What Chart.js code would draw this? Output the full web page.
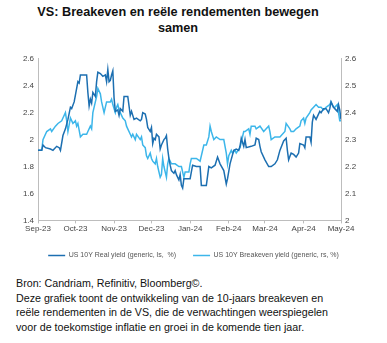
<!DOCTYPE html>
<html>
<head>
<meta charset="utf-8">
<script src="https://cdn.jsdelivr.net/npm/chart.js@4"></script>
<style>
  body { margin: 0; background: #fff; font-family: "Liberation Sans", Arial, sans-serif; }
  #wrap { position: relative; width: 387px; height: 343px; overflow: hidden; }
  #title { position: absolute; left: 0; top: 4px; width: 356px; text-align: center;
           font-weight: bold; font-size: 12.7px; line-height: 16px; color: #111; }
  #box { position: absolute; left: 0; top: 50px; width: 387px; height: 219px; }
  #note { position: absolute; left: 16px; top: 276px; width: 370px; font-size: 10.7px;
          line-height: 14.7px; color: #111; }
</style>
</head>
<body>
<div id="wrap">
  <div id="title">VS: Breakeven en reële rendementen bewegen<br>samen</div>
  <div id="box"><canvas id="yieldChart"></canvas></div>
  <div id="note">Bron: Candriam, Refinitiv, Bloomberg©.<br>Deze grafiek toont de ontwikkeling van de 10-jaars breakeven en<br>reële rendementen in de VS, die de verwachtingen weerspiegelen<br>voor de toekomstige inflatie en groei in de komende tien jaar.</div>
</div>
<script>
// days counted from 1 Sep 2023
const monthDays = [0, 30, 61, 91, 122, 153, 182, 213, 243];
const monthLabels = ['Sep-23', 'Oct-23', 'Nov-23', 'Dec-23', 'Jan-24', 'Feb-24', 'Mar-24', 'Apr-24', 'May-24'];

// US 10Y real yield (left axis, %)
const realDays = [0, 3, 4, 6, 10, 12, 15, 17, 18, 20, 22, 24, 26, 27, 29, 30, 32, 33, 34, 38, 39, 40, 41, 42, 43, 44, 46, 47, 48, 50,
  52, 54, 55, 56, 57, 58, 59, 60, 61, 62, 64, 65, 66, 68, 69, 72, 74, 75, 76, 77, 79, 82, 83, 84, 86, 87, 88, 90, 91, 92,
  93, 94, 95, 97, 98, 99, 101, 102, 103, 104, 105, 106, 107, 108, 109, 110, 111, 113, 114, 115, 116, 117, 119, 122, 123, 124, 127, 130, 131, 135,
  137, 139, 142, 144, 146, 149, 151, 152, 154, 157, 159, 161, 162, 163, 165, 166, 167, 171, 174, 175, 177, 178, 179, 182, 185, 187, 190, 192, 194, 197,
  199, 200, 201, 203, 205, 207, 209, 210, 213, 214, 215, 218, 219, 220, 221, 223, 226, 227, 229, 231, 233, 234, 235, 237, 238, 240, 241, 242, 243];
const realYield = [1.92, 1.92, 1.96, 1.94, 1.93, 1.92, 1.95, 1.94, 1.92, 2.03, 2.08, 2.15, 2.24, 2.23, 2.28, 2.33, 2.43, 2.42, 2.48, 2.48, 2.48, 2.35, 2.25, 2.30, 2.27, 2.35, 2.32, 2.43, 2.50, 2.49,
  2.47, 2.48, 2.43, 2.52, 2.43, 2.44, 2.48, 2.51, 2.31, 2.21, 2.22, 2.18, 2.23, 2.21, 2.32, 2.32, 2.18, 2.21, 2.18, 2.15, 2.16, 2.14, 2.15, 2.20, 2.19, 2.15, 2.09, 2.06, 2.09, 1.97,
  2.01, 2.00, 2.04, 2.02, 1.93, 1.96, 2.00, 2.01, 2.03, 1.93, 1.86, 1.81, 1.77, 1.76, 1.75, 1.77, 1.74, 1.70, 1.74, 1.66, 1.64, 1.71, 1.71, 1.71, 1.76, 1.81, 1.80, 1.80, 1.66, 1.66,
  1.80, 1.79, 1.81, 1.87, 1.82, 1.77, 1.67, 1.71, 1.82, 1.92, 1.93, 1.92, 1.95, 2.01, 1.95, 2.00, 1.94, 1.95, 1.96, 2.01, 2.00, 1.95, 1.91, 1.85, 1.80, 1.80, 1.82, 1.85, 1.92, 1.99,
  2.01, 1.92, 1.85, 1.90, 1.89, 1.87, 1.90, 1.97, 1.96, 1.94, 2.02, 2.02, 1.98, 2.13, 2.18, 2.15, 2.21, 2.20, 2.23, 2.23, 2.20, 2.23, 2.28, 2.24, 2.23, 2.21, 2.26, 2.22, 2.15];

// US 10Y breakeven yield (right axis, %)
const beDays = [0, 3, 4, 7, 10, 11, 14, 16, 19, 20, 22, 23, 24, 26, 28, 30, 31, 32, 34, 36, 39, 40, 42, 43, 44, 46, 47, 48, 50, 51,
  53, 55, 56, 58, 59, 60, 62, 63, 64, 65, 67, 68, 70, 71, 72, 74, 75, 76, 78, 79, 82, 83, 84, 86, 87, 88, 90, 91, 92, 94,
  95, 96, 98, 99, 100, 101, 102, 103, 104, 105, 107, 110, 113, 115, 117, 118, 121, 122, 123, 125, 127, 130, 133, 135, 137, 138, 139, 141, 143, 146,
  149, 151, 152, 153, 155, 156, 158, 159, 162, 163, 165, 166, 169, 170, 171, 174, 175, 178, 181, 183, 185, 186, 187, 190, 194, 198, 199, 202, 203, 205,
  207, 210, 211, 213, 214, 215, 218, 219, 223, 225, 227, 229, 231, 234, 235, 237, 238, 240, 241, 242, 243];
const breakeven = [2.26, 2.26, 2.30, 2.33, 2.34, 2.33, 2.35, 2.36, 2.37, 2.38, 2.40, 2.37, 2.33, 2.38, 2.36, 2.37, 2.35, 2.36, 2.31, 2.32, 2.32, 2.33, 2.35, 2.34, 2.40, 2.44, 2.46, 2.49, 2.47, 2.44,
  2.40, 2.44, 2.44, 2.44, 2.45, 2.43, 2.40, 2.42, 2.43, 2.41, 2.39, 2.38, 2.37, 2.35, 2.34, 2.32, 2.31, 2.32, 2.30, 2.32, 2.30, 2.31, 2.28, 2.27, 2.24, 2.23, 2.25, 2.23, 2.22, 2.21,
  2.23, 2.20, 2.16, 2.17, 2.23, 2.20, 2.18, 2.16, 2.21, 2.23, 2.21, 2.21, 2.20, 2.20, 2.16, 2.18, 2.18, 2.21, 2.23, 2.23, 2.23, 2.22, 2.28, 2.28, 2.31, 2.35, 2.33, 2.30, 2.31, 2.30,
  2.30, 2.25, 2.21, 2.24, 2.26, 2.25, 2.26, 2.25, 2.27, 2.29, 2.33, 2.33, 2.34, 2.32, 2.35, 2.35, 2.34, 2.35, 2.33, 2.34, 2.35, 2.33, 2.30, 2.31, 2.31, 2.33, 2.36, 2.34, 2.33, 2.33,
  2.34, 2.35, 2.37, 2.38, 2.36, 2.38, 2.40, 2.41, 2.43, 2.42, 2.42, 2.41, 2.42, 2.43, 2.44, 2.42, 2.42, 2.43, 2.40, 2.37, 2.37];

const axisColor = '#bdbdbd';
const tickFont = { family: 'Liberation Sans, Arial, sans-serif', size: 8 };

function fmt(v) {
  return String(+v.toFixed(1));
}

new Chart(document.getElementById('yieldChart'), {
  type: 'line',
  data: {
    datasets: [{
      label: 'US 10Y Real yield (generic, ls,  %)',
      data: realDays.map((d, i) => ({ x: d, y: realYield[i] })),
      borderColor: '#1c6fb1',
      backgroundColor: '#1c6fb1',
      borderWidth: 1.5,
      pointRadius: 0,
      yAxisID: 'yL'
    },
    {
      label: 'US 10Y Breakeven yield (generic, rs, %)',
      data: beDays.map((d, i) => ({ x: d, y: breakeven[i] })),
      borderColor: '#3cb6ea',
      backgroundColor: '#3cb6ea',
      borderWidth: 1.5,
      pointRadius: 0,
      yAxisID: 'yR'
    }]
  },
  options: {
    responsive: true,
    maintainAspectRatio: false,
    animation: false,
    layout: { padding: { top: 8, left: 0, right: 0 } },
    plugins: {
      tooltip: { enabled: false },
      legend: {
        position: 'bottom',
        labels: {
          usePointStyle: true,
          pointStyle: 'line',
          pointStyleWidth: 17,
          boxHeight: 6,
          padding: 17,
          color: '#555',
          font: { family: 'Liberation Sans, Arial, sans-serif', size: 7 }
        }
      }
    },
    scales: {
      x: {
        type: 'linear',
        min: 0,
        max: 243,
        afterBuildTicks: (axis) => { axis.ticks = monthDays.map(v => ({ value: v })); },
        ticks: {
          autoSkip: false,
          maxRotation: 0,
          padding: 1,
          color: '#444',
          font: tickFont,
          callback: (v) => monthLabels[monthDays.indexOf(v)]
        },
        grid: { drawOnChartArea: false, drawTicks: true, tickLength: 3, color: axisColor },
        border: { color: axisColor }
      },
      yL: {
        position: 'left',
        min: 1.4,
        max: 2.6,
        ticks: { stepSize: 0.2, padding: 4, color: '#444', font: tickFont, callback: fmt },
        grid: { drawOnChartArea: false, drawTicks: false, color: axisColor },
        border: { color: axisColor },
        afterFit: (s) => { s.width = 38; }
      },
      yR: {
        position: 'right',
        min: 2.0,
        max: 2.6,
        ticks: { stepSize: 0.1, padding: 4, color: '#444', font: tickFont, callback: fmt },
        grid: { drawOnChartArea: false, drawTicks: false, color: axisColor },
        border: { color: axisColor },
        afterFit: (s) => { s.width = 46; }
      }
    }
  }
});
</script>
</body>
</html>
